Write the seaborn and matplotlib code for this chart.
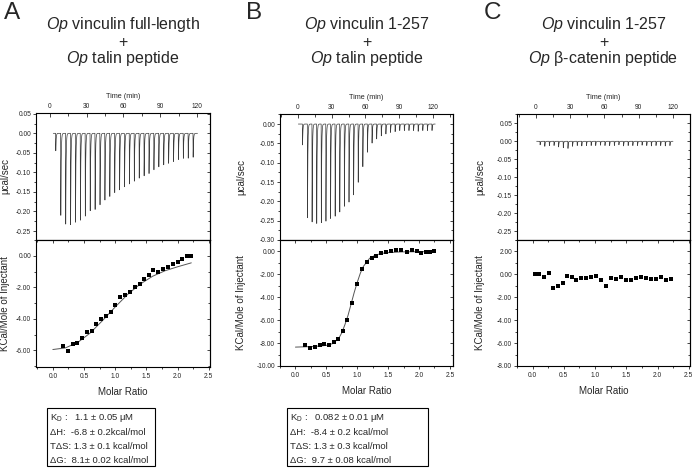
import numpy as np
import pandas as pd
import matplotlib
matplotlib.use("Agg")
import matplotlib.pyplot as plt
from matplotlib.patches import Rectangle
from matplotlib.ticker import MultipleLocator, NullFormatter, FormatStrFormatter
import seaborn as sns

sns.set_style("ticks")
plt.rcParams['font.family'] = ['Liberation Sans', 'DejaVu Sans']
plt.rcParams['mathtext.fontset'] = 'custom'
plt.rcParams['mathtext.rm'] = 'Liberation Sans'
plt.rcParams['mathtext.it'] = 'Liberation Sans:italic'
plt.rcParams['axes.unicode_minus'] = False

# ---- panel A: vinculin full-length + talin peptide ----
a_inj_time = [4.6, 8.7, 12.7, 16.7, 20.7, 24.7, 28.7, 32.7, 36.7, 40.7, 44.7, 48.7, 52.7, 56.7, 60.7,
              64.7, 68.7, 72.7, 76.7, 80.7, 84.7, 88.7, 92.7, 96.7, 100.7, 104.7, 108.7, 112.7, 116.7]
a_inj_peak = [-0.045, -0.210, -0.234, -0.237, -0.229, -0.223, -0.214, -0.201, -0.195, -0.184, -0.173,
              -0.163, -0.152, -0.146, -0.139, -0.130, -0.123, -0.116, -0.110, -0.103, -0.094, -0.087,
              -0.081, -0.077, -0.073, -0.068, -0.064, -0.064, -0.062]
a_ratio = [0.17, 0.24, 0.32, 0.39, 0.47, 0.55, 0.62, 0.70, 0.78, 0.85, 0.93, 1.00, 1.08, 1.16,
           1.23, 1.31, 1.39, 1.46, 1.54, 1.61, 1.69, 1.77, 1.84, 1.92, 2.00, 2.07, 2.15, 2.22]
a_heat = [-5.70, -6.02, -5.60, -5.56, -5.20, -4.84, -4.75, -4.30, -4.00, -3.85, -3.60, -3.15, -2.62,
          -2.52, -2.30, -2.00, -1.80, -1.46, -1.20, -0.90, -1.00, -0.87, -0.70, -0.55, -0.42, -0.22,
          0.00, 0.00]
a_fit_x = [0.0, 0.2, 0.4, 0.6, 0.8, 1.0, 1.2, 1.4, 1.6, 1.8, 2.0, 2.22]
a_fit_y = [-5.95, -5.85, -5.50, -4.90, -4.10, -3.25, -2.45, -1.80, -1.30, -0.95, -0.70, -0.45]

# ---- panel B: vinculin 1-257 + talin peptide ----
b_inj_time = [3.9, 8.3, 12.4, 16.5, 20.6, 24.7, 28.8, 32.9, 37.0, 41.1, 45.2, 49.3, 53.4, 57.5, 61.6,
              65.7, 69.8, 73.9, 78.0, 82.1, 86.2, 90.3, 94.4, 98.5, 102.6, 106.7, 110.8, 114.9, 119.0]
b_inj_peak = [-0.054, -0.246, -0.257, -0.261, -0.259, -0.255, -0.248, -0.242, -0.231, -0.216, -0.205,
              -0.186, -0.153, -0.112, -0.074, -0.050, -0.039, -0.031, -0.026, -0.022, -0.020, -0.017,
              -0.017, -0.017, -0.017, -0.019, -0.017, -0.017, -0.017]
b_ratio = [0.16, 0.24, 0.31, 0.39, 0.46, 0.54, 0.62, 0.69, 0.77, 0.84, 0.92, 1.00, 1.08, 1.16,
           1.24, 1.31, 1.39, 1.47, 1.55, 1.63, 1.71, 1.80, 1.88, 1.96, 2.04, 2.12, 2.18, 2.24]
b_heat = [-8.19, -8.43, -8.37, -8.13, -8.08, -8.13, -7.90, -7.61, -6.94, -5.98, -4.49, -2.83, -1.52,
          -0.93, -0.55, -0.38, -0.15, -0.03, 0.03, 0.12, 0.09, -0.03, 0.12, 0.03, -0.15, -0.06,
          -0.03, 0.00]
b_fit_x = [0.0, 0.3, 0.5, 0.6, 0.7, 0.75, 0.8, 0.85, 0.9, 0.95, 1.0, 1.05, 1.1, 1.2, 1.3, 1.45, 1.7, 2.22]
b_fit_y = [-8.35, -8.30, -8.20, -8.05, -7.60, -7.10, -6.40, -5.60, -4.60, -3.60, -2.70, -1.90, -1.30,
           -0.60, -0.30, -0.12, -0.04, -0.01]

# ---- panel C: vinculin 1-257 + beta-catenin peptide ----
c_inj_time = [3.5, 7.6, 11.6, 15.7, 19.7, 23.8, 27.9, 31.9, 36.0, 40.0, 44.1, 48.2, 52.2, 56.3, 60.3,
              64.4, 68.5, 72.5, 76.6, 80.6, 84.7, 88.8, 92.8, 96.9, 100.9, 105.0, 109.1, 113.1, 117.2]
c_inj_peak = [-0.010, -0.014, -0.012, -0.012, -0.016, -0.018, -0.020, -0.014, -0.012, -0.013, -0.012,
              -0.012, -0.012, -0.011, -0.012, -0.012, -0.012, -0.010, -0.013, -0.012, -0.012, -0.012,
              -0.011, -0.012, -0.013, -0.012, -0.012, -0.013, -0.012]
c_ratio = [0.04, 0.11, 0.18, 0.26, 0.33, 0.40, 0.48, 0.55, 0.63, 0.70, 0.78, 0.86, 0.93, 1.01, 1.09,
           1.17, 1.25, 1.33, 1.41, 1.49, 1.57, 1.65, 1.73, 1.81, 1.90, 1.98, 2.06, 2.14, 2.22]
c_heat = [0.00, 0.00, -0.20, 0.10, -1.20, -1.00, -0.77, -0.13, -0.19, -0.48, -0.34, -0.34, -0.25,
          -0.13, -0.48, -1.00, -0.28, -0.39, -0.25, -0.48, -0.48, -0.31, -0.25, -0.31, -0.39, -0.39,
          -0.22, -0.48, -0.39]

box_a = ["K$_\\mathrm{D}$ :   1.1 ± 0.05 μM", "ΔH:  -6.8 ± 0.2kcal/mol",
         "TΔS: 1.3 ± 0.1 kcal/mol", "ΔG:  8.1± 0.02 kcal/mol"]
box_b = ["K$_\\mathrm{D}$ :   0.082 ± 0.01 μM", "ΔH:  -8.4 ± 0.2 kcal/mol",
         "TΔS: 1.3 ± 0.3 kcal/mol", "ΔG:  9.7 ± 0.08 kcal/mol"]

W, H = 696, 476


def thermogram(times, peaks, t0, t1):
    # narrow injection spikes on a flat baseline
    t = np.linspace(t0, t1, 16000)
    sig = np.zeros_like(t)
    for ti, h in zip(times, peaks):
        dt = t - ti
        rise = (dt >= 0) & (dt < 0.15)
        sig[rise] += h * dt[rise] / 0.15
        fall = dt >= 0.15
        sig[fall] += h * np.exp(-(dt[fall] - 0.15) / 0.3)
    return pd.DataFrame({"time": t, "power": sig})


def add_ax(fig, l, r, top, bot):
    return fig.add_axes([l / W, 1 - bot / H, (r - l) / W, (bot - top) / H])


def frame(ax):
    for s in ax.spines.values():
        s.set_visible(True)
        s.set_linewidth(0.8)
        s.set_color("black")


panels = [
    dict(letter="A", lx=4, t1="$\\it{Op}$ vinculin full-length", t3="$\\it{Op}$ talin peptide",
         l=36, r=210, top=113, mid=240, bot=367, tlim=(-11.4, 130.6), base=(2.7, 120.4),
         plim=(-0.273, 0.052), pticks=[0.05, 0, -0.05, -0.10, -0.15, -0.20, -0.25],
         mlim=(-0.27, 2.52), hlim=(-7.06, 1.0), hticks=[0, -2, -4, -6], labx=-0.15,
         inj=(a_inj_time, a_inj_peak), pts=(a_ratio, a_heat), fit=(a_fit_x, a_fit_y)),
    dict(letter="B", lx=246, t1="$\\it{Op}$ vinculin 1-257", t3="$\\it{Op}$ talin peptide",
         l=280, r=453, top=114, mid=240, bot=366, tlim=(-16.0, 137.8), base=(0.3, 122.0),
         plim=(-0.30, 0.026), pticks=[0, -0.05, -0.10, -0.15, -0.20, -0.25, -0.30],
         mlim=(-0.25, 2.55), hlim=(-10.0, 1.0), hticks=[0, -2, -4, -6, -8, -10], labx=-0.195,
         inj=(b_inj_time, b_inj_peak), pts=(b_ratio, b_heat), fit=(b_fit_x, b_fit_y)),
    dict(letter="C", lx=484, t1="$\\it{Op}$ vinculin 1-257", t3="$\\it{Op}$ β-catenin peptide",
         l=517, r=690, top=114, mid=240, bot=366, tlim=(-16.6, 134.9), base=(0.6, 120.0),
         plim=(-0.275, 0.076), pticks=[0.05, 0, -0.05, -0.10, -0.15, -0.20, -0.25],
         mlim=(-0.25, 2.52), hlim=(-8.0, 3.0), hticks=[2, 0, -2, -4, -6, -8], labx=-0.185,
         inj=(c_inj_time, c_inj_peak), pts=(c_ratio, c_heat), fit=None),
]

fig = plt.figure(figsize=(W / 100, H / 100), dpi=100)
tick_fs = 4.8

for p in panels:
    cx = (p["l"] + p["r"]) / 2 / W
    fig.text(p["lx"] / W, 1 - 19 / H, p["letter"], fontsize=17.5, ha="left", va="baseline")
    fig.text(cx, 1 - 29.5 / H, p["t1"], fontsize=11.5, ha="center", va="baseline")
    fig.text(cx, 1 - 46.5 / H, "+", fontsize=11.5, ha="center", va="baseline")
    fig.text(cx, 1 - 63.5 / H, p["t3"], fontsize=11.5, ha="center", va="baseline")

    # raw thermogram
    ax1 = add_ax(fig, p["l"], p["r"], p["top"], p["mid"])
    df = thermogram(*p["inj"], *p["base"])
    sns.lineplot(data=df, x="time", y="power", ax=ax1, color="#3c3c3c", lw=0.5,
                 sort=False, estimator=None)
    ax1.set_xlim(*p["tlim"])
    ax1.set_ylim(*p["plim"])
    ax1.xaxis.tick_top()
    ax1.xaxis.set_label_position("top")
    ax1.set_xticks([0, 30, 60, 90, 120])
    ax1.xaxis.set_minor_locator(MultipleLocator(15))
    ax1.tick_params(axis="x", which="both", direction="in", top=True, bottom=False,
                    labeltop=True, labelbottom=False, labelsize=tick_fs, pad=2,
                    length=3, width=0.6)
    ax1.tick_params(axis="x", which="minor", length=1.8)
    ax1.set_xlabel("Time (min)", fontsize=5.2, labelpad=4)
    ax1.set_yticks(p["pticks"])
    ax1.yaxis.set_minor_locator(MultipleLocator(0.025))
    ax1.yaxis.set_major_formatter(FormatStrFormatter("%.2f"))
    ax1.tick_params(axis="y", which="both", direction="out", labelsize=tick_fs, pad=1,
                    length=2.5, width=0.6)
    ax1.tick_params(axis="y", which="minor", length=1.5)
    ax1.set_ylabel("μcal/sec", fontsize=7)
    ax1.yaxis.set_label_coords(p["labx"], 0.5)
    sr = ax1.secondary_yaxis("right")
    sr.set_yticks(p["pticks"])
    sr.yaxis.set_minor_locator(MultipleLocator(0.025))
    sr.yaxis.set_major_formatter(NullFormatter())
    sr.tick_params(which="both", direction="in", length=2.5, width=0.6)
    sr.tick_params(which="minor", length=1.5)
    frame(ax1)

    # integrated heats
    ax2 = add_ax(fig, p["l"], p["r"], p["mid"], p["bot"])
    pts = pd.DataFrame({"ratio": p["pts"][0], "heat": p["pts"][1]})
    if p["fit"] is not None:
        fit = pd.DataFrame({"ratio": p["fit"][0], "heat": p["fit"][1]})
        sns.lineplot(data=fit, x="ratio", y="heat", ax=ax2, color="#555555", lw=0.7,
                     sort=False, estimator=None)
    sns.scatterplot(data=pts, x="ratio", y="heat", ax=ax2, marker="s", color="black",
                    s=11, linewidth=0, zorder=3)
    ax2.set_xlim(*p["mlim"])
    ax2.set_ylim(*p["hlim"])
    ax2.set_xticks([0, 0.5, 1.0, 1.5, 2.0, 2.5])
    ax2.xaxis.set_minor_locator(MultipleLocator(0.25))
    ax2.xaxis.set_major_formatter(FormatStrFormatter("%.1f"))
    ax2.tick_params(axis="x", which="both", direction="out", labelsize=tick_fs, pad=2,
                    length=2.5, width=0.6)
    ax2.tick_params(axis="x", which="minor", length=1.5)
    ax2.set_xlabel("Molar Ratio", fontsize=7, labelpad=5)
    ax2.set_yticks(p["hticks"])
    ax2.yaxis.set_minor_locator(MultipleLocator(1.0))
    ax2.yaxis.set_major_formatter(FormatStrFormatter("%.2f"))
    ax2.tick_params(axis="y", which="both", direction="out", labelsize=tick_fs, pad=1,
                    length=2.5, width=0.6)
    ax2.tick_params(axis="y", which="minor", length=1.5)
    ax2.set_ylabel("KCal/Mole of Injectant", fontsize=7)
    ax2.yaxis.set_label_coords(p["labx"], 0.5)
    st = ax2.secondary_xaxis("top")
    st.set_xticks([0, 0.5, 1.0, 1.5, 2.0, 2.5])
    st.xaxis.set_minor_locator(MultipleLocator(0.25))
    st.xaxis.set_major_formatter(NullFormatter())
    st.tick_params(which="both", direction="in", length=2.5, width=0.6)
    st.tick_params(which="minor", length=1.5)
    sr2 = ax2.secondary_yaxis("right")
    sr2.set_yticks(p["hticks"])
    sr2.yaxis.set_minor_locator(MultipleLocator(1.0))
    sr2.yaxis.set_major_formatter(NullFormatter())
    sr2.tick_params(which="both", direction="in", length=2.5, width=0.6)
    sr2.tick_params(which="minor", length=1.5)
    frame(ax2)

# thermodynamic parameter boxes
for lines, x0, x1 in [(box_a, 47, 155), (box_b, 287, 428)]:
    fig.add_artist(Rectangle((x0 / W, 1 - 466 / H), (x1 - x0) / W, 58 / H,
                             transform=fig.transFigure, fill=False, lw=0.8, ec="black"))
    for i, s in enumerate(lines):
        fig.text((x0 + 3) / W, 1 - (418.5 + 14 * i) / H, s, fontsize=6.8,
                 ha="left", va="center")

fig.savefig("out.png", dpi=100)
